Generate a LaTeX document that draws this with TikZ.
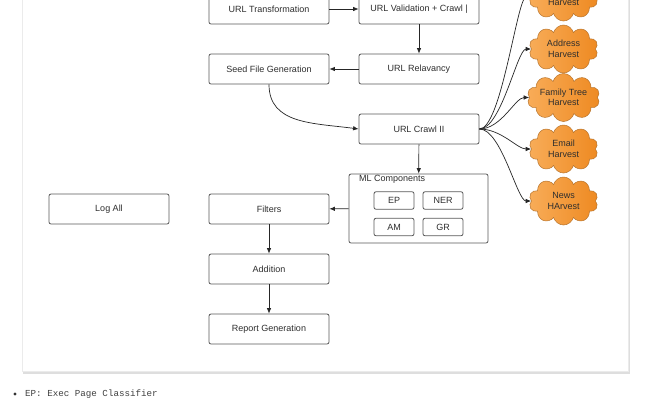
\documentclass[tikz,border=0pt]{standalone}
\usepackage{fontspec}
\setmainfont{Liberation Sans}
\setmonofont{Liberation Mono}
\usetikzlibrary{shapes.symbols,arrows.meta}
\definecolor{cloudlt}{HTML}{F8AC58}
\definecolor{clouddk}{HTML}{EE8A22}
\definecolor{cloudln}{HTML}{B8752E}
\begin{document}
\begin{tikzpicture}[x=1pt,y=-1pt,>={Latex[length=5.5pt,width=4.5pt]},
every node/.style={font=\fontsize{9}{10.5}\selectfont,text=black!82},
proc/.style={draw=black!65,line width=.8pt,rounded corners=2pt,fill=white,minimum width=120pt,minimum height=30pt,align=center},
tag/.style={draw=black!65,line width=.8pt,rounded corners=2pt,fill=white,minimum width=40pt,minimum height=17.5pt},
harvest/.style={cloud,cloud puffs=10,cloud ignores aspect,draw=cloudln,line width=.5pt,left color=cloudlt,right color=clouddk,minimum width=69pt,minimum height=48pt,align=center,inner sep=1pt},
link/.style={->,draw=black!85,line width=.7pt}]
\clip (0,0) rectangle (650,400);
% page card
\fill[black!13] (23,-10) rectangle (630,374);
\fill[white,draw=black!8] (22,-10) rectangle (628,371);
\node[proc] (trans) at (269,9) {URL Transformation};
\node[proc] (valid) at (419,9) {URL Validation + Crawl |};
\node[proc] (seed) at (269,69) {Seed File Generation};
\node[proc] (relev) at (419,69) {URL Relavancy};
\node[proc] (crawl) at (419,129) {URL Crawl II};
\node[proc,minimum width=139pt,minimum height=69pt] (ml) at (418.5,208.5) {};
\node[anchor=north west,inner sep=1pt] (mltitle) at (358,174.5) {ML Components};
\node[tag] (ep) at (394,200.5) {EP};
\node[tag] (ner) at (443,200.5) {NER};
\node[tag] (am) at (394,227) {AM};
\node[tag] (gr) at (443,227) {GR};
\node[proc] (log) at (109,209) {Log All};
\node[proc] (filt) at (269,209) {Filters};
\node[proc] (add) at (269,269) {Addition};
\node[proc] (rep) at (269,329) {Report Generation};
\node[harvest] (tophv) at (563.5,-3) {\strut\\Harvest};
\node[harvest] (addr) at (563.5,49) {Address\\Harvest};
\node[harvest] (fam) at (563.5,97.5) {Family Tree\\Harvest};
\node[harvest] (mail) at (563.5,149) {Email\\Harvest};
\node[harvest] (news) at (563.5,201) {News\\HArvest};
\draw[link] (trans)--(valid);
\draw[link] (valid)--(relev);
\draw[link] (relev)--(seed);
\draw[link] (seed.south) .. controls +(0,40) and +(-45,-6) .. (crawl.west);
\draw[link] (crawl)--(ml);
\draw[link] (ml)--(filt);
\draw[link] (filt)--(add);
\draw[link] (add)--(rep);
\draw[link] (crawl.east) .. controls +(22,0) and +(-14,0) .. (tophv.west);
\draw[link] (crawl.east) .. controls +(22,0) and +(-14,0) .. (addr.west);
\draw[link] (crawl.east) .. controls +(22,0) and +(-14,0) .. (fam.west);
\draw[link] (crawl.east) .. controls +(22,0) and +(-14,0) .. (mail.west);
\draw[link] (crawl.east) .. controls +(22,0) and +(-14,0) .. (news.west);
% note below the card
\fill[black!80] (15,394) circle (1.6);
\node[anchor=west,inner sep=0pt,font=\ttfamily\fontsize{9.2}{11}\selectfont,text=black!75] (note) at (25,394) {EP: Exec Page Classifier};
\end{tikzpicture}
\end{document}
